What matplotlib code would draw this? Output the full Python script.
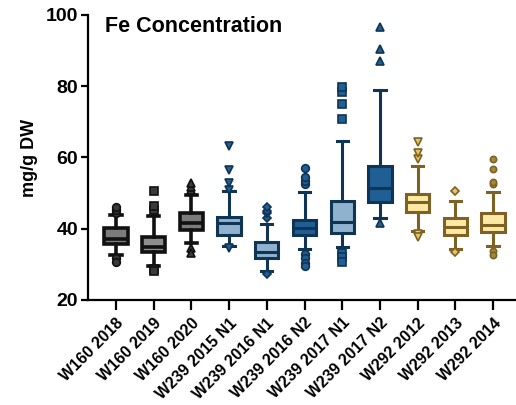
import matplotlib
matplotlib.use("Agg")
import matplotlib.pyplot as plt

plt.rcParams['font.family'] = ['Liberation Sans', 'DejaVu Sans']

labels = ['W160 2018', 'W160 2019', 'W160 2020', 'W239 2015 N1', 'W239 2016 N1',
          'W239 2016 N2', 'W239 2017 N1', 'W239 2017 N2', 'W292 2012',
          'W292 2013', 'W292 2014']

q1 = [35.8, 33.6, 39.6, 38.2, 31.9, 38.2, 38.7, 47.4, 44.6, 38.2, 39.0]
med = [37.2, 34.8, 41.5, 41.7, 33.6, 40.3, 42.0, 51.5, 47.4, 40.6, 41.0]
q3 = [40.3, 37.6, 44.5, 43.4, 36.2, 42.5, 47.9, 57.6, 49.7, 42.9, 44.3]
whislo = [32.6, 29.4, 36.1, 35.2, 28.2, 34.2, 34.8, 42.9, 39.5, 34.3, 35.2]
whishi = [43.9, 43.6, 49.5, 50.6, 41.3, 50.4, 64.6, 79.0, 57.7, 47.8, 50.4]
fliers = [
    [44.5, 45.3, 46.2, 31.8, 30.8],
    [45.3, 46.4, 50.7, 28.6, 28.0],
    [50.8, 51.6, 52.9, 34.5, 33.1],
    [51.0, 52.9, 56.5, 63.2, 34.5],
    [43.0, 44.3, 45.1, 46.0, 27.3],
    [52.5, 53.5, 54.5, 57.0, 33.0, 31.7, 30.5, 29.4],
    [70.8, 75.0, 78.5, 79.7, 33.2, 32.0, 30.8],
    [87.2, 90.4, 96.5, 41.7],
    [59.5, 61.3, 64.4, 38.5, 37.6],
    [50.7, 33.4],
    [52.5, 53.2, 56.8, 59.6, 33.8, 32.6],
]

fills = ['#7c7c7c', '#8e8e8e', '#7c7c7c', '#8fb2cf', '#8fb2cf', '#1f5f93',
         '#8fb2cf', '#1f5f93', '#fde9a4', '#fde9a4', '#fde9a4']
edges = ['#111111', '#111111', '#111111', '#0f3454', '#0f3454', '#0f3454',
         '#0f3454', '#0f3454', '#7d6224', '#7d6224', '#7d6224']
marker_fill = ['#3a3a3a', '#3a3a3a', '#3a3a3a', '#1f5f93', '#1f5f93', '#1f5f93',
               '#1f5f93', '#1f5f93', '#e9c466', '#e9c466', '#a8863a']
markers = ['o', 's', '^', 'v', 'D', 'o', 's', '^', 'v', 'D', 'o']

fig = plt.figure(figsize=(5.16, 4.05), dpi=100)
ax = fig.add_axes([0.1705, 0.2593, 0.829, 0.7037])

for i in range(len(labels)):
    stats = [dict(q1=q1[i], med=med[i], q3=q3[i], whislo=whislo[i],
                  whishi=whishi[i], fliers=fliers[i])]
    ms = 4.5 if markers[i] == 'D' else 5.5
    if i == 10:
        ms = 4.5
    lw = 2.6 if i < 3 else 2.2
    ax.bxp(stats, positions=[i], widths=0.62, patch_artist=True,
           boxprops=dict(facecolor=fills[i], edgecolor=edges[i], linewidth=lw),
           medianprops=dict(color=edges[i], linewidth=lw),
           whiskerprops=dict(color=edges[i], linewidth=lw),
           capprops=dict(color=edges[i], linewidth=lw),
           capwidths=0.3,
           flierprops=dict(marker=markers[i], markerfacecolor=marker_fill[i],
                           markeredgecolor=edges[i], markersize=ms,
                           markeredgewidth=1.2, linestyle='none'))

ax.set_xlim(-0.74, 10.6)
ax.set_ylim(20, 100)
ax.set_yticks([20, 40, 60, 80, 100])
ax.set_xticks(range(len(labels)))
ax.set_xticklabels(labels, rotation=45, ha='right', rotation_mode='anchor',
                   fontsize=11.5, fontweight='bold')
for t in ax.get_yticklabels():
    t.set_fontsize(14)
    t.set_fontweight('bold')
ax.set_ylabel('mg/g DW', fontsize=13, fontweight='bold', labelpad=6)

ax.spines['top'].set_visible(False)
ax.spines['right'].set_visible(False)
ax.spines['left'].set_linewidth(1.6)
ax.spines['bottom'].set_linewidth(1.6)
ax.tick_params(axis='y', length=5, width=1.6, pad=2)
ax.tick_params(axis='x', length=7, width=1.6, pad=4)

ax.text(0.04, 0.995, 'Fe Concentration', transform=ax.transAxes,
        fontsize=15.5, fontweight='bold', va='top', ha='left')

fig.savefig('out.png', dpi=100)
